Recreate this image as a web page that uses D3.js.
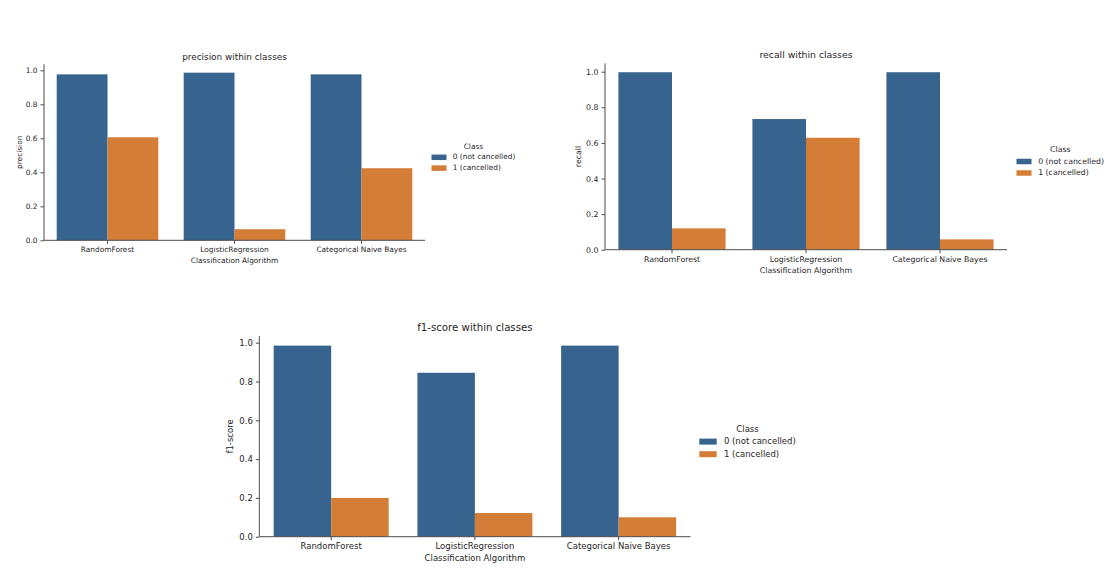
<!DOCTYPE html>
<html>
<head>
<meta charset="utf-8">
<script src="https://cdn.jsdelivr.net/npm/d3@7"></script>
<style>
  html, body { margin: 0; padding: 0; background: #fff; }
  svg { display: block; font-family: "DejaVu Sans", sans-serif; }
</style>
</head>
<body>
<svg id="chart" width="1111" height="568"></svg>
<script>
// ---- data ----
const algorithms = ["RandomForest", "LogisticRegression", "Categorical Naive Bayes"];
const classes = ["0 (not cancelled)", "1 (cancelled)"];
const precision0 = [0.976, 0.986, 0.976];
const precision1 = [0.606, 0.065, 0.424];
const recall0 = [0.997, 0.734, 0.997];
const recall1 = [0.120, 0.629, 0.058];
const f1score0 = [0.985, 0.845, 0.985];
const f1score1 = [0.200, 0.122, 0.100];
const yTicks = [0, 0.2, 0.4, 0.6, 0.8, 1.0];
const xAxisTitle = "Classification Algorithm";
const legendTitle = "Class";
const colors = ["#36648f", "#d37d37"];

// ---- panels (layout) ----
const panels = [
  { title: "precision within classes", ylabel: "precision", v0: precision0, v1: precision1,
    x0: 44, x1: 425, yZero: 240.3, yOne: 70.3, fs: 7.4, tfs: 8.9,
    titleY: 57, ylabX: 20, tickY: 250, line2Y: 260.5, legX: 431.5, legY: 146.5, patchW: 15, patchH: 5.5, rowH: 10.8 },
  { title: "recall within classes", ylabel: "recall", v0: recall0, v1: recall1,
    x0: 605, x1: 1007, yZero: 249.7, yOne: 71.7, fs: 7.8, tfs: 9.3,
    titleY: 55.5, ylabX: 579, tickY: 260, line2Y: 270.5, legX: 1016.5, legY: 150, patchW: 15, patchH: 5.5, rowH: 11.5 },
  { title: "f1-score within classes", ylabel: "f1-score", v0: f1score0, v1: f1score1,
    x0: 259.3, x1: 690.5, yZero: 536.7, yOne: 342.7, fs: 8.5, tfs: 10.2,
    titleY: 327.5, ylabX: 230.5, tickY: 547, line2Y: 558.5, legX: 699.3, legY: 429, patchW: 17.4, patchH: 6, rowH: 12.6 }
];

const svg = d3.select("#chart");
const textColor = "#262626";
const spineColor = "#4d4d4d";

panels.forEach(p => {
  const g = svg.append("g");
  const values = [p.v0, p.v1];
  const ymax = Math.max(...p.v0, ...p.v1) * 1.05;
  const unit = p.yZero - p.yOne;
  const y = d3.scaleLinear().domain([0, ymax]).range([p.yZero, p.yZero - unit * ymax]);
  const x = d3.scaleBand().domain(algorithms).range([p.x0, p.x1]).paddingInner(0.2).paddingOuter(0.1);
  const xs = d3.scaleBand().domain([0, 1]).range([0, x.bandwidth()]);

  // bars
  algorithms.forEach((alg, i) => {
    [0, 1].forEach(c => {
      g.append("rect")
        .attr("x", x(alg) + xs(c))
        .attr("y", y(values[c][i]))
        .attr("width", xs.bandwidth())
        .attr("height", y(0) - y(values[c][i]))
        .attr("fill", colors[c]);
    });
  });

  // y axis
  const yAxis = d3.axisLeft(y).tickValues(yTicks).tickFormat(d3.format(".1f")).tickSize(3.5).tickPadding(3);
  const ya = g.append("g").attr("transform", `translate(${p.x0},0)`).call(yAxis);
  ya.select(".domain").attr("stroke", spineColor).attr("d", `M0,${y(0)}V${y(ymax)}`);
  ya.selectAll(".tick line").attr("stroke", spineColor);
  ya.selectAll(".tick text").attr("fill", textColor).attr("font-size", p.fs).attr("font-family", "DejaVu Sans");

  // x axis
  const xAxis = d3.axisBottom(x).tickSize(3.5).tickPadding(2);
  const xa = g.append("g").attr("transform", `translate(0,${p.yZero})`).call(xAxis);
  xa.select(".domain").attr("stroke", spineColor).attr("d", `M${p.x0},0H${p.x1}`);
  xa.selectAll(".tick line").attr("stroke", spineColor);
  xa.selectAll(".tick text").attr("fill", textColor).attr("font-size", p.fs).attr("font-family", "DejaVu Sans")
    .attr("dy", null).attr("y", p.tickY - p.yZero).attr("dominant-baseline", "middle");

  // x axis title
  g.append("text").attr("x", (p.x0 + p.x1) / 2).attr("y", p.line2Y)
    .attr("text-anchor", "middle").attr("dominant-baseline", "middle")
    .attr("font-size", p.fs).attr("fill", textColor).text(xAxisTitle);

  // y label
  g.append("text").attr("transform", `translate(${p.ylabX},${(p.yZero + y(ymax)) / 2}) rotate(-90)`)
    .attr("text-anchor", "middle").attr("dominant-baseline", "middle")
    .attr("font-size", p.fs).attr("fill", textColor).text(p.ylabel);

  // title
  g.append("text").attr("x", (p.x0 + p.x1) / 2).attr("y", p.titleY)
    .attr("text-anchor", "middle").attr("dominant-baseline", "middle")
    .attr("font-size", p.tfs).attr("fill", textColor).text(p.title);

  // legend
  const lg = g.append("g");
  const textX = p.legX + p.patchW + p.fs * 0.85;
  const rows = classes.map((cl, c) => {
    const cy = p.legY + p.rowH * (c + 1);
    lg.append("rect").attr("x", p.legX).attr("y", cy - p.patchH / 2)
      .attr("width", p.patchW).attr("height", p.patchH).attr("fill", colors[c]);
    return lg.append("text").attr("x", textX).attr("y", cy).attr("dominant-baseline", "middle")
      .attr("font-size", p.fs).attr("fill", textColor).text(cl);
  });
  const w = rows[0].node().getComputedTextLength();
  lg.append("text").attr("x", (p.legX + textX + w) / 2).attr("y", p.legY)
    .attr("text-anchor", "middle").attr("dominant-baseline", "middle")
    .attr("font-size", p.fs).attr("fill", textColor).text(legendTitle);
});
</script>
</body>
</html>
